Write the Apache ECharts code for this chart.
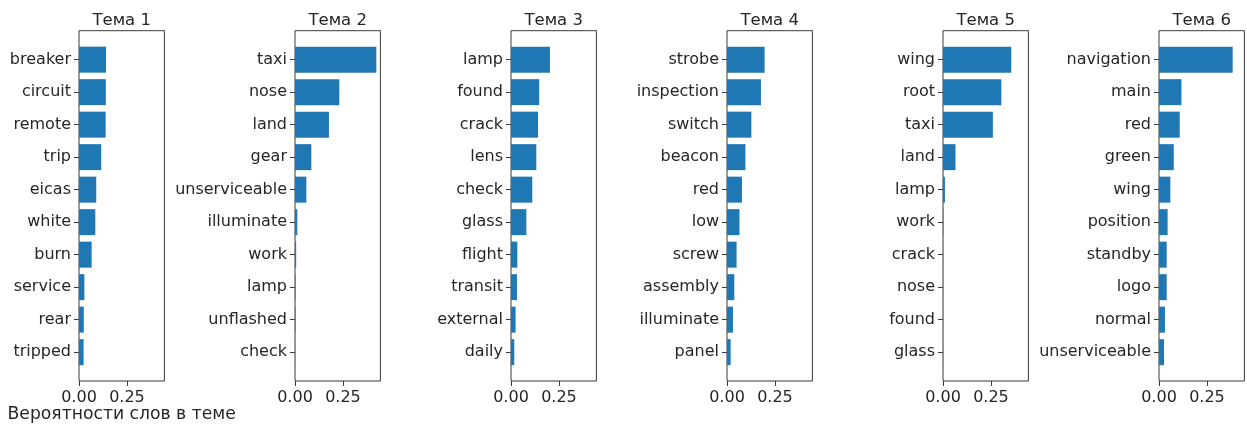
<!DOCTYPE html>
<html>
<head>
<meta charset="utf-8">
<title>Вероятности слов в темах</title>
<script src="https://cdn.jsdelivr.net/npm/echarts@6/dist/echarts.min.js"></script>
<style>
  html, body { margin: 0; padding: 0; background: #ffffff; }
  #chart { width: 1247px; height: 425px; }
</style>
</head>
<body>
<div id="chart"></div>
<script>
// Topic titles
const topicTitles = ['Тема 1', 'Тема 2', 'Тема 3', 'Тема 4', 'Тема 5', 'Тема 6'];

// Top-10 words of each topic (listed top to bottom) and their probabilities
const words1 = ['breaker', 'circuit', 'remote', 'trip', 'eicas', 'white', 'burn', 'service', 'rear', 'tripped'];
const probs1 = [0.141, 0.140, 0.139, 0.116, 0.090, 0.085, 0.066, 0.028, 0.025, 0.024];

const words2 = ['taxi', 'nose', 'land', 'gear', 'unserviceable', 'illuminate', 'work', 'lamp', 'unflashed', 'check'];
const probs2 = [0.424, 0.231, 0.177, 0.085, 0.059, 0.012, 0.006, 0.003, 0.003, 0.001];

const words3 = ['lamp', 'found', 'crack', 'lens', 'check', 'glass', 'flight', 'transit', 'external', 'daily'];
const probs3 = [0.203, 0.147, 0.141, 0.132, 0.111, 0.080, 0.033, 0.031, 0.024, 0.017];

const words4 = ['strobe', 'inspection', 'switch', 'beacon', 'red', 'low', 'screw', 'assembly', 'illuminate', 'panel'];
const probs4 = [0.196, 0.177, 0.127, 0.096, 0.078, 0.065, 0.050, 0.038, 0.031, 0.019];

const words5 = ['wing', 'root', 'taxi', 'land', 'lamp', 'work', 'crack', 'nose', 'found', 'glass'];
const probs5 = [0.356, 0.304, 0.260, 0.065, 0.010, 0.002, 0.001, 0.001, 0.001, 0.001];

const words6 = ['navigation', 'main', 'red', 'green', 'wing', 'position', 'standby', 'logo', 'normal', 'unserviceable'];
const probs6 = [0.384, 0.117, 0.108, 0.077, 0.059, 0.045, 0.040, 0.040, 0.031, 0.026];

// Shared x ticks
const xTicks = [0, 0.25];
const xTickLabels = ['0.00', '0.25'];
const xAxisTitle = 'Вероятности слов в теме';

const allWords = [words1, words2, words3, words4, words5, words6];
const allProbs = [probs1, probs2, probs3, probs4, probs5, probs6];

// Shared x range: largest probability plus a 5% margin
const maxProb = Math.max(...allProbs.flat());
const xMax = maxProb * 1.05;

// Panel geometry (px)
const FONT = 'DejaVu Sans';
const TEXT = '#262626';
const FRAME = '#3a3a3a';
const firstLeft = 79, step = 216, panelW = 85.4;
const frameTop = 30.7, frameH = 350.3;
// category band region sits inside the frame, padded like a 5% axis margin
const bandTop = 43.4, bandH = 325;

const grids = [], xAxes = [], yAxes = [], series = [], texts = [];

allWords.forEach((words, i) => {
  const left = firstLeft + i * step;
  const frameIdx = 2 * i, dataIdx = 2 * i + 1;

  // frame grid with the probability axis
  grids.push({ left: left, top: frameTop, width: panelW, height: frameH,
    show: true, borderColor: FRAME, borderWidth: 1, backgroundColor: 'transparent', containLabel: false });
  // data grid with the word categories
  grids.push({ left: left, top: bandTop, width: panelW, height: bandH, containLabel: false });

  xAxes.push({
    type: 'value', gridIndex: frameIdx, min: 0, max: xMax, position: 'bottom',
    splitLine: { show: false },
    axisLine: { show: false },
    axisTick: { show: true, length: 5, customValues: xTicks, lineStyle: { color: FRAME, width: 1 } },
    axisLabel: {
      show: true, customValues: xTicks, margin: 9,
      fontFamily: FONT, fontSize: 16, color: TEXT,
      formatter: v => xTickLabels[xTicks.indexOf(v)] ?? ''
    }
  });
  xAxes.push({ type: 'value', gridIndex: dataIdx, min: 0, max: xMax, show: false });

  yAxes.push({ type: 'value', gridIndex: frameIdx, min: 0, max: 1, show: false });
  yAxes.push({
    type: 'category', gridIndex: dataIdx, data: words, inverse: true,
    axisLine: { show: false },
    axisTick: { show: true, length: 5, alignWithLabel: true, lineStyle: { color: FRAME, width: 1 } },
    axisLabel: { margin: 8, fontFamily: FONT, fontSize: 16, color: TEXT },
    splitLine: { show: false }
  });

  series.push({
    type: 'bar', xAxisIndex: dataIdx, yAxisIndex: dataIdx,
    data: allProbs[i], barWidth: '80%',
    itemStyle: { color: '#1f77b4' },
    silent: true
  });

  // panel title centred over the frame
  texts.push({
    type: 'text', x: left + panelW / 2, y: 20.5,
    style: {
      text: topicTitles[i], align: 'center', verticalAlign: 'middle',
      font: '16.5px "' + FONT + '"', fill: TEXT
    },
    silent: true
  });
});

// x-axis title under the first panel
texts.push({
  type: 'text', x: firstLeft + panelW / 2, y: 415,
  style: {
    text: xAxisTitle, align: 'center', verticalAlign: 'middle',
    font: '17.2px "' + FONT + '"', fill: TEXT
  },
  silent: true
});

const chart = echarts.init(document.getElementById('chart'), null, { renderer: 'canvas' });
chart.setOption({
  animation: false,
  backgroundColor: '#ffffff',
  graphic: texts,
  grid: grids,
  xAxis: xAxes,
  yAxis: yAxes,
  series: series
});
</script>
</body>
</html>
